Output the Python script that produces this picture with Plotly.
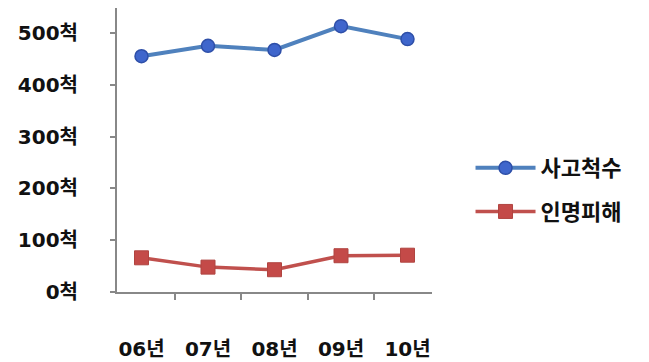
import plotly.graph_objects as go

# Yearly counts
years = ["06년", "07년", "08년", "09년", "10년"]
accidents = [455, 475, 467, 513, 488]      # 사고척수
casualties = [66, 48, 43, 70, 71]          # 인명피해
y_ticks = [0, 100, 200, 300, 400, 500]
y_tick_text = [f"{v}척" for v in y_ticks]

FONT = "DejaVu Sans, Noto Sans CJK KR"

fig = go.Figure()
fig.add_trace(go.Scatter(
    x=years, y=accidents, name="사고척수", mode="lines+markers",
    legendgroup="a",
    line=dict(color="#4F81BD", width=4),
    marker=dict(symbol="circle", size=13, color="#3F66CC",
                line=dict(color="#2E4FA8", width=1.5)),
))
fig.add_trace(go.Scatter(
    x=years, y=casualties, name="인명피해", mode="lines+markers",
    legendgroup="b",
    line=dict(color="#C0504D", width=3.5),
    marker=dict(symbol="square", size=14, color="#C44A48",
                line=dict(color="#B04440", width=1)),
))

fig.update_layout(
    width=649, height=362,
    margin=dict(l=117, r=217, t=8, b=70, autoexpand=False),
    paper_bgcolor="white", plot_bgcolor="white",
    font=dict(family=FONT, color="#111111"),
    showlegend=True,
    legend=dict(
        xref="container", yref="container", x=0.725, y=0.475,
        xanchor="left", yanchor="middle",
        font=dict(family="Noto Sans CJK KR", size=22, color="#111111", weight="bold"),
        tracegroupgap=12, itemwidth=60,
    ),
    xaxis=dict(
        type="category", tickson="boundaries", automargin=False,
        showline=True, linecolor="#888888", linewidth=2,
        ticks="outside", ticklen=6, tickwidth=2, tickcolor="#888888",
        showgrid=False, zeroline=False,
        tickfont=dict(family=FONT, size=20, color="#111111", weight="bold"),
        ticklabelstandoff=38,
    ),
    yaxis=dict(
        range=[0, 548], tickvals=y_ticks, ticktext=y_tick_text, automargin=False,
        showline=True, linecolor="#888888", linewidth=2,
        ticks="outside", ticklen=5, tickwidth=2, tickcolor="#888888",
        showgrid=False, zeroline=False,
        tickfont=dict(family=FONT, size=20, color="#111111", weight="bold"),
        ticklabelstandoff=28,
    ),
)

fig.write_html("out.html")
